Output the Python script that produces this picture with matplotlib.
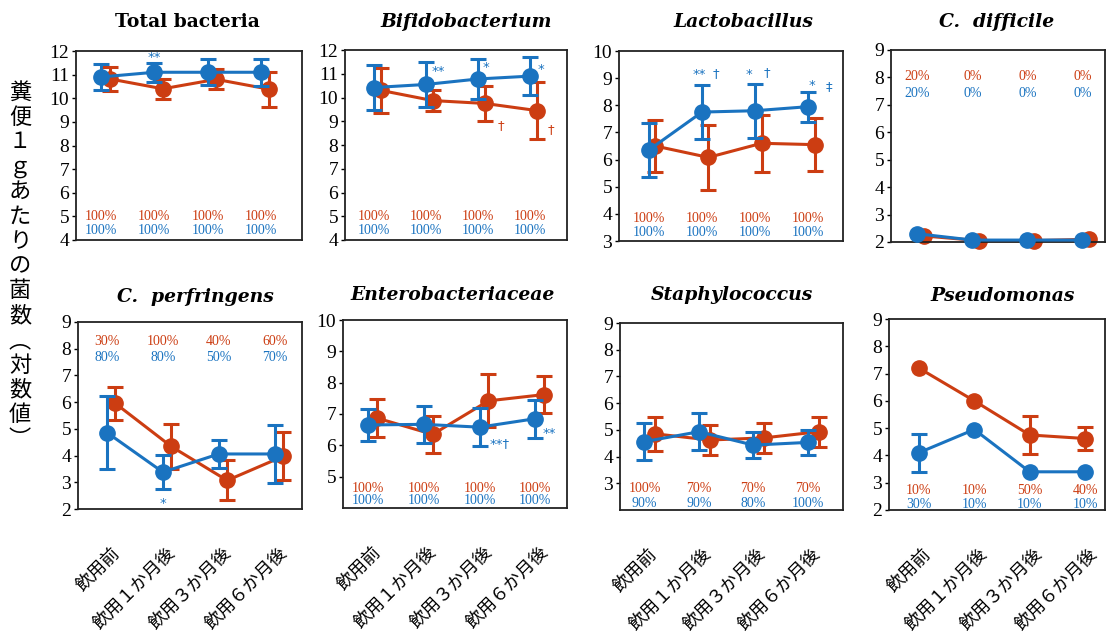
import numpy as np
import matplotlib
matplotlib.use('Agg')
import matplotlib.pyplot as plt

W, H = 1107, 644

# ---------------- data ----------------
time_labels = ['飲用前', '飲用１か月後', '飲用３か月後', '飲用６か月後']
groups = [0, 1, 2, 3]
titles = ['Total bacteria', 'Bifidobacterium', 'Lactobacillus', 'C.  difficile',
          'C.  perfringens', 'Enterobacteriaceae', 'Staphylococcus', 'Pseudomonas']
ylabel_text = '糞便１ｇあたりの菌数︵対数値︶'

total_blue = [10.9, 11.1, 11.1, 11.1]
total_blue_err = [0.55, 0.4, 0.55, 0.57]
total_red = [10.82, 10.4, 10.8, 10.38]
total_red_err = [0.5, 0.43, 0.42, 0.75]

bifido_blue = [10.42, 10.55, 10.78, 10.9]
bifido_blue_err = [0.95, 0.95, 0.85, 0.8]
bifido_red = [10.3, 9.87, 9.75, 9.45]
bifido_red_err = [0.95, 0.45, 0.75, 1.2]

lacto_blue = [6.35, 7.75, 7.8, 7.95]
lacto_blue_err = [1.0, 1.0, 1.0, 0.55]
lacto_red = [6.5, 6.08, 6.6, 6.55]
lacto_red_err = [0.95, 1.2, 1.05, 0.97]

cdiff_blue = [2.3, 2.07, 2.07, 2.07]
cdiff_blue_err = [np.nan, np.nan, np.nan, np.nan]
cdiff_red = [2.22, 2.05, 2.05, 2.1]
cdiff_red_err = [np.nan, np.nan, np.nan, np.nan]

cperf_blue = [4.86, 3.38, 4.06, 4.06]
cperf_blue_err = [1.38, 0.65, 0.53, 1.1]
cperf_red = [5.95, 4.34, 3.07, 3.97]
cperf_red_err = [0.62, 0.84, 0.75, 0.9]

entero_blue = [6.65, 6.67, 6.58, 6.85]
entero_blue_err = [0.5, 0.6, 0.6, 0.6]
entero_red = [6.87, 6.35, 7.42, 7.62]
entero_red_err = [0.6, 0.6, 0.85, 0.6]

staph_blue = [4.56, 4.93, 4.43, 4.53]
staph_blue_err = [0.68, 0.7, 0.48, 0.46]
staph_red = [4.85, 4.62, 4.7, 4.93]
staph_red_err = [0.65, 0.57, 0.57, 0.57]

pseudo_blue = [4.1, 4.95, 3.4, 3.4]
pseudo_blue_err = [0.7, np.nan, np.nan, np.nan]
pseudo_red = [7.2, 6.0, 4.75, 4.62]
pseudo_red_err = [np.nan, np.nan, 0.7, 0.43]

pct_red = [
    ['100%', '100%', '100%', '100%'],
    ['100%', '100%', '100%', '100%'],
    ['100%', '100%', '100%', '100%'],
    ['20%', '0%', '0%', '0%'],
    ['30%', '100%', '40%', '60%'],
    ['100%', '100%', '100%', '100%'],
    ['100%', '70%', '70%', '70%'],
    ['10%', '10%', '50%', '40%'],
]
pct_blue = [
    ['100%', '100%', '100%', '100%'],
    ['100%', '100%', '100%', '100%'],
    ['100%', '100%', '100%', '100%'],
    ['20%', '0%', '0%', '0%'],
    ['80%', '80%', '50%', '70%'],
    ['100%', '100%', '100%', '100%'],
    ['90%', '90%', '80%', '100%'],
    ['30%', '10%', '10%', '10%'],
]

# significance marks: (panel, x, y, text, series)
marks = [
    (0, 1.0, 11.72, '**', 'blue'),
    (1, 1.24, 11.09, '**', 'blue'),
    (1, 2.16, 11.26, '*', 'blue'),
    (1, 3.2, 11.16, '*', 'blue'),
    (1, 2.43, 8.84, '†', 'red'),
    (1, 3.4, 8.63, '†', 'red'),
    (2, 0.94, 9.13, '**', 'blue'),
    (2, 1.27, 9.17, '†', 'blue'),
    (2, 1.89, 9.15, '*', 'blue'),
    (2, 2.22, 9.2, '†', 'blue'),
    (2, 3.06, 8.72, '*', 'blue'),
    (2, 3.38, 8.68, '‡', 'blue'),
    (4, 1.0, 2.22, '*', 'blue'),
    (5, 2.36, 6.07, '**†', 'blue'),
    (5, 3.25, 6.39, '**', 'blue'),
]

blue_series = [total_blue, bifido_blue, lacto_blue, cdiff_blue,
               cperf_blue, entero_blue, staph_blue, pseudo_blue]
blue_errs = [total_blue_err, bifido_blue_err, lacto_blue_err, cdiff_blue_err,
             cperf_blue_err, entero_blue_err, staph_blue_err, pseudo_blue_err]
red_series = [total_red, bifido_red, lacto_red, cdiff_red,
              cperf_red, entero_red, staph_red, pseudo_red]
red_errs = [total_red_err, bifido_red_err, lacto_red_err, cdiff_red_err,
            cperf_red_err, entero_red_err, staph_red_err, pseudo_red_err]

# ---------------- layout / style ----------------
RED = '#cc3d12'
BLUE = '#1a73c0'
colors = {'blue': BLUE, 'red': RED}

# pixel boxes (left, top, right, bottom)
boxes = [(76, 51, 302, 240), (345, 50, 567, 240), (619, 51, 843, 241), (891, 50, 1105, 242),
         (78, 322, 302, 509), (343, 320, 567, 508), (620, 323, 843, 510), (889, 319, 1105, 510)]
xlims = [(-0.47, 3.77), (-0.56, 3.71), (-0.56, 3.65), (-0.48, 3.41),
         (-0.52, 3.49), (-0.45, 3.57), (-0.45, 3.65), (-0.54, 3.36)]
ylims = [(4, 12), (4, 12), (3, 10), (2, 9), (2, 9), (4, 10), (2, 9), (2, 9)]
ytick_sets = [range(4, 13), range(4, 13), range(3, 11), range(2, 10),
              range(2, 10), range(5, 11), range(3, 10), range(2, 10)]
red_offsets = [0.16, 0.13, 0.12, 0.12, 0.15, 0.16, 0.2, 0.0]
pct_rows = [(0.125, 0.05), (0.125, 0.05), (0.12, 0.045), (0.86, 0.775),
            (0.895, 0.81), (0.105, 0.04), (0.115, 0.035), (0.10, 0.03)]
title_pos = [(187, 22), (466, 22), (743, 22), (997, 22),
             (195, 297), (453, 295), (732, 295), (1003, 296)]

fig = plt.figure(figsize=(W / 100, H / 100), dpi=100)

for i in range(8):
    l, t, r, b = boxes[i]
    ax = fig.add_axes([l / W, 1 - b / H, (r - l) / W, (b - t) / H])
    xb = np.array(groups, dtype=float)
    xr = xb + red_offsets[i]
    rv = np.array(red_series[i]); re = np.array(red_errs[i])
    bv = np.array(blue_series[i]); be = np.array(blue_errs[i])

    for xs, vals, errs, c, z in [(xr, rv, re, RED, 2), (xb, bv, be, BLUE, 3)]:
        ax.plot(xs, vals, '-o', color=c, lw=2.2, ms=11, zorder=z, clip_on=False)
        m = ~np.isnan(errs)
        if m.any():
            ax.errorbar(xs[m], vals[m], yerr=errs[m], fmt='none', ecolor=c,
                        elinewidth=2.2, capsize=6, capthick=2.2, zorder=z)

    ax.set_xlim(*xlims[i])
    ax.set_ylim(*ylims[i])
    ax.set_yticks(list(ytick_sets[i]))
    ax.set_yticklabels([str(v) for v in ytick_sets[i]], family='Liberation Serif', fontsize=14)
    ax.tick_params(axis='y', direction='out', length=3, width=1, pad=2)
    for s in ax.spines.values():
        s.set_linewidth(1.3)
        s.set_color('#222222')

    yr, ybl = pct_rows[i]
    for g in groups:
        ax.text(g, yr, pct_red[i][g], transform=ax.get_xaxis_transform(), color=RED,
                ha='center', va='center', fontsize=10, family='Liberation Serif')
        ax.text(g, ybl, pct_blue[i][g], transform=ax.get_xaxis_transform(), color=BLUE,
                ha='center', va='center', fontsize=10, family='Liberation Serif')

    for (p, x, y, txt, ser) in marks:
        if p == i:
            ax.text(x, y, txt, color=colors[ser], ha='center', va='center',
                    fontsize=9.5, family='DejaVu Sans', zorder=5)

    if i >= 4:
        ax.set_xticks([g + 0.18 for g in groups])
        ax.set_xticklabels(time_labels, rotation=45, ha='right', va='center',
                           rotation_mode='anchor', fontsize=13, family='Noto Sans CJK JP')
        ax.tick_params(axis='x', length=0, pad=30)
    else:
        ax.set_xticks([])

    tx, ty = title_pos[i]
    fig.text(tx / W, 1 - ty / H, titles[i], ha='center', va='center', fontsize=13.5,
             family='DejaVu Serif', fontweight='bold',
             style='normal' if i == 0 else 'italic')

fig.text(20 / W, 1 - 266 / H, '\n'.join(ylabel_text), ha='center', va='center',
         fontsize=16, family='Noto Sans CJK JP', linespacing=1.1)

fig.savefig('out.png', dpi=100)
